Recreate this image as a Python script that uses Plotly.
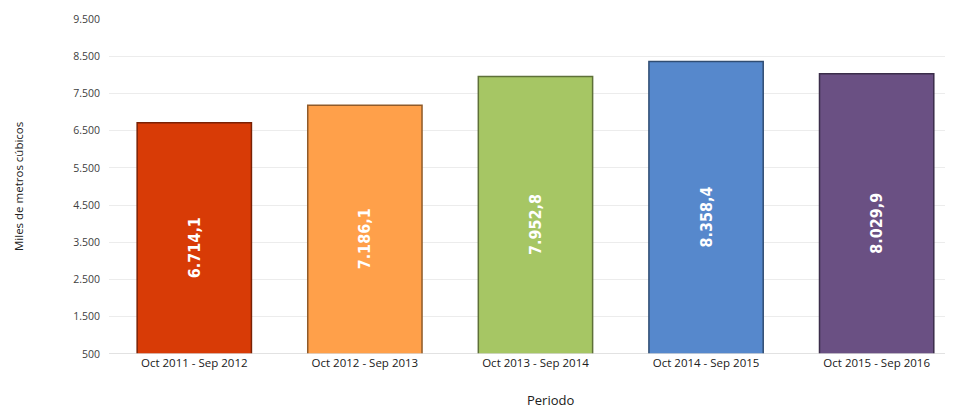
import plotly.graph_objects as go

periods = ["Oct 2011 - Sep 2012", "Oct 2012 - Sep 2013", "Oct 2013 - Sep 2014",
           "Oct 2014 - Sep 2015", "Oct 2015 - Sep 2016"]
values = [6714.1, 7186.1, 7952.8, 8358.4, 8029.9]
bar_colors = ["#D83B06", "#FFA04A", "#A6C664", "#5688CC", "#6A5083"]
edge_colors = ["#7A2104", "#8F5A29", "#5E7038", "#304D73", "#3B2D4A"]
y_ticks = [500, 1500, 2500, 3500, 4500, 5500, 6500, 7500, 8500, 9500]

# page body has an 8px margin, so figure coords = screen coords - 8
W, H = 945, 400
L, R, T, B = 101, 3, 11, 54
pw, ph = W - L - R, H - T - B

fig = go.Figure(go.Bar(
    x=periods, y=values,
    marker=dict(color=bar_colors, line=dict(color=edge_colors, width=1.5)),
    width=0.67,
    texttemplate="%{y:,.1f}",
    textposition="inside",
    insidetextanchor="middle",
    textangle=-90,
    textfont=dict(family="DejaVu Sans Condensed", size=16, color="white", weight="bold"),
    hoverinfo="skip",
))

fig.update_layout(
    width=W, height=H,
    margin=dict(l=L, r=R, t=T, b=B, autoexpand=False),
    plot_bgcolor="white", paper_bgcolor="white",
    separators=",.",
    showlegend=False,
    xaxis=dict(
        range=[-0.5, 4.43], automargin=False,
        tickfont=dict(family="Open Sans", size=11.5, color="#202020"),
        showgrid=False, showline=False, ticks="",
    ),
    yaxis=dict(
        range=[500, 9500], automargin=False,
        tickvals=y_ticks, tickformat=",d",
        tickfont=dict(family="Open Sans", size=10.5, color="#404040"),
        showgrid=True, gridcolor="#ECECEC", gridwidth=1,
        zeroline=False, showline=False, ticks="",
        ticklabelstandoff=8,
    ),
    annotations=[
        dict(text="Periodo", xref="paper", yref="paper",
             x=(542 - L) / pw, y=-(392 - (H - B)) / ph,
             xanchor="center", yanchor="middle", showarrow=False,
             font=dict(family="Open Sans", size=13, color="#202020")),
        dict(text="Miles de metros cúbicos", xref="paper", yref="paper",
             x=-(L - 10) / pw, y=(H - B - 179) / ph, textangle=-90,
             xanchor="center", yanchor="middle", showarrow=False,
             font=dict(family="Open Sans", size=11.5, color="#202020")),
    ],
)
fig.add_hline(y=500, line=dict(color="#D9D9D9", width=1.5))

fig.write_html("out.html")
